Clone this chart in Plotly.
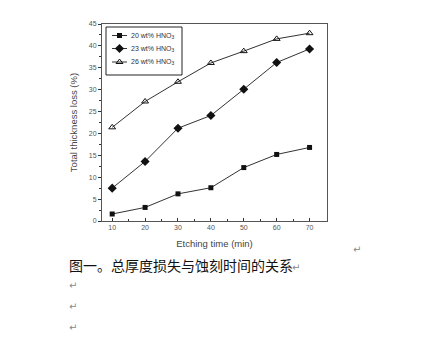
import plotly.graph_objects as go

# Etching time (min)
etch_time = [10, 20, 30, 40, 50, 60, 70]

# Total thickness loss (%) for each HNO3 concentration
loss_20 = [1.6, 3.1, 6.2, 7.6, 12.2, 15.2, 16.8]
loss_23 = [7.5, 13.6, 21.2, 24.1, 30.1, 36.2, 39.3]
loss_26 = [21.4, 27.3, 31.8, 36.1, 38.8, 41.6, 42.9]

series_names = ["20 wt% HNO<sub>3</sub>", "23 wt% HNO<sub>3</sub>", "26 wt% HNO<sub>3</sub>"]
caption = "图一。总厚度损失与蚀刻时间的关系"

W, H = 424, 342
L, R, T, B = 102, 327, 24, 221  # plot area in pixels


def px(x):
    return (x - L) / (R - L)


def py(y):
    return (B - y) / (B - T)


line_col = "#333333"
mark_col = "#111111"
styles = [
    dict(symbol="square", size=5, color=mark_col),
    dict(symbol="diamond", size=7, color=mark_col),
    dict(symbol="triangle-up-open", size=6, color=mark_col, line=dict(width=1, color=mark_col)),
]

fig = go.Figure()
for vals, name, mk in zip([loss_20, loss_23, loss_26], series_names, styles):
    fig.add_trace(go.Scatter(x=etch_time, y=vals, name=name, mode="lines+markers",
                             line=dict(color=line_col, width=1), marker=mk,
                             showlegend=False))

# Compact legend drawn in its own small pixel-scaled frame
box_l, box_r, box_t, box_b = 106, 182, 27, 75
rows = [8.5, 21.5, 35]
for r, name, mk in zip(rows, series_names, styles):
    fig.add_trace(go.Scatter(x=[6, 21], y=[r, r], mode="lines", line=dict(color=line_col, width=1),
                             xaxis="x2", yaxis="y2", showlegend=False, hoverinfo="skip"))
    fig.add_trace(go.Scatter(x=[13.5], y=[r], mode="markers", marker=mk,
                             xaxis="x2", yaxis="y2", showlegend=False, hoverinfo="skip"))
    fig.add_annotation(x=22.5, y=r, xref="x2", yref="y2", xanchor="left", yanchor="middle",
                       showarrow=False, text=name,
                       font=dict(family="Liberation Sans, Arial", size=7, color="#333333"))
fig.add_shape(type="rect", xref="paper", yref="paper", x0=px(box_l), x1=px(box_r),
              y0=py(box_b), y1=py(box_t), line=dict(color="#222222", width=1),
              fillcolor="rgba(0,0,0,0)")

axis_font = dict(family="Liberation Sans, Arial", size=7, color="#555555")
title_font = dict(family="Liberation Sans, Arial", size=9.5, color="#444444")

fig.update_layout(
    width=W, height=H,
    margin=dict(l=L, r=W - R, t=T, b=H - B, pad=0),
    paper_bgcolor="white", plot_bgcolor="white",
    showlegend=False,
    xaxis=dict(range=[6.9, 75.3], tickvals=etch_time, ticks="inside", ticklen=3,
               tickcolor="#333333", showline=True, linecolor="#555555", linewidth=1,
               mirror=True, showgrid=False, zeroline=False, tickfont=axis_font,
               minor=dict(tickvals=[15, 25, 35, 45, 55, 65], ticks="inside", ticklen=2,
                          tickcolor="#333333"),
               title=dict(text="Etching time (min)", font=title_font, standoff=9)),
    yaxis=dict(range=[0, 45], dtick=5, ticks="outside", ticklen=3, tickcolor="#333333",
               showline=True, linecolor="#555555", linewidth=1, mirror=True,
               showgrid=False, zeroline=False, tickfont=axis_font,
               minor=dict(dtick=2.5, ticks="outside", ticklen=2, tickcolor="#333333"),
               title=dict(text="Total thickness loss (%)", font=title_font, standoff=9)),
    xaxis2=dict(domain=[px(box_l), px(box_r)], range=[0, box_r - box_l], anchor="y2",
                visible=False, fixedrange=True),
    yaxis2=dict(domain=[py(box_b), py(box_t)], range=[box_b - box_t, 0], anchor="x2",
                visible=False, fixedrange=True),
)

# Caption below the figure, with paragraph marks
fig.add_annotation(x=px(67), y=py(265), xref="paper", yref="paper", xanchor="left",
                   yanchor="middle", showarrow=False, text=caption,
                   font=dict(family="Noto Sans CJK SC", size=14, color="#111111"))
mark_font = dict(family="DejaVu Sans", size=10, color="#888888")
for (mx, my) in [(296, 267), (357, 249), (73, 285), (73, 306), (73, 327)]:
    fig.add_annotation(x=px(mx), y=py(my), xref="paper", yref="paper", xanchor="center",
                       yanchor="middle", showarrow=False, text="↵", font=mark_font)

fig.write_html("out.html")
